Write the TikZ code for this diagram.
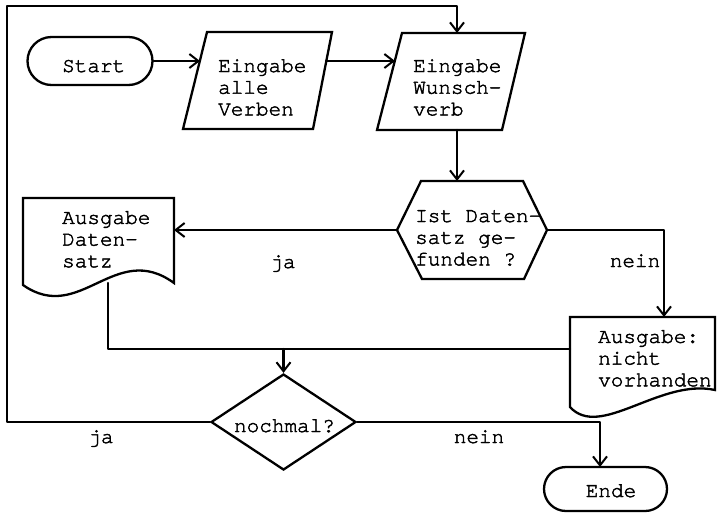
\documentclass[tikz,border=0pt]{standalone}
\usepackage{fontspec}
\setmonofont{TeX Gyre Cursor}[FakeBold=2]
\usetikzlibrary{arrows.meta,shapes.misc,shapes.geometric}

\begin{document}
\begin{tikzpicture}[x=1pt,y=-1pt,
  line/.style={line width=2.3pt, line join=round, line cap=round},
  conn/.style={line, -{Straight Barb[length=9pt,width=14pt,line width=2pt]}},
  shapeline/.style={line width=2.3pt, line join=miter},
  lbl/.style={font=\ttfamily\fontsize{21}{21.7}\selectfont, inner sep=0pt, align=left},
  term/.style={draw, shapeline, rounded rectangle, inner sep=0pt}]

\useasboundingbox (0,0) rectangle (719,512);
\fill[white] (0,0) rectangle (719,512);

% terminals
\node[term, minimum width=125pt, minimum height=48pt] (start) at (90,61) {};
\node[lbl, anchor=base west] (starttxt) at (62,72) {Start};
\node[term, minimum width=123pt, minimum height=44pt] (ende) at (605.5,489) {};
\node[lbl, anchor=base] (endetxt) at (611,497) {Ende};

% input: all verbs
\draw[shapeline] (207,32) -- (332,32) -- (313,129) -- (183,129) -- cycle;
\node[lbl, anchor=north west] (verben) at (218,59) {Eingabe\\alle\\Verben};
\coordinate (p1w) at (200,61);
\coordinate (p1e) at (326,61);

% input: wanted verb
\draw[shapeline] (402,33) -- (525,33) -- (502,130) -- (377,130) -- cycle;
\node[lbl, anchor=north west] (wunsch) at (413,59) {Eingabe\\Wunsch-\\verb};
\coordinate (p2w) at (395,61);
\coordinate (p2n) at (457,33);
\coordinate (p2s) at (457,130);

% decision: record found?
\draw[shapeline] (397,230) -- (421,181) -- (523,181) -- (547,230) -- (524,279) -- (422,279) -- cycle;
\node[lbl, anchor=north west] (frage) at (415,210) {Ist Daten-\\satz ge-\\funden ?};
\coordinate (hexn) at (457,181);
\coordinate (hexw) at (397,230);
\coordinate (hexe) at (547,230);

% output: record
\draw[shapeline] (23,198) -- (174,198) -- (174,283)
  .. controls (115,240) and (80,325) .. (23,285) -- cycle;
\node[lbl, anchor=north west] (datensatz) at (62,211) {Ausgabe\\Daten-\\satz};
\coordinate (doc1e) at (174,230);
\coordinate (doc1s) at (108,283);

% output: not found
\draw[shapeline] (570,317) -- (715,317) -- (715,390)
  .. controls (660,378) and (600,440) .. (570,407) -- cycle;
\node[lbl, anchor=north west] (nicht) at (598,330) {Ausgabe:\\nicht\\vorhanden};
\coordinate (doc2n) at (664,317);
\coordinate (doc2w) at (570,349);

% decision: again?
\node[diamond, draw, shapeline, minimum width=145pt, minimum height=96pt, inner sep=0pt, aspect=1.5] (nochmal) at (283.5,422) {};
\node[lbl, anchor=base] (nochmaltxt) at (284.5,432) {nochmal?};

% loop corners and junctions
\coordinate (loopbl) at (7,422);
\coordinate (looptl) at (7,6);
\coordinate (looptr) at (457,6);
\coordinate (merge) at (283.5,349);
\coordinate (endcorner) at (600,422);
\coordinate (endn) at (600,467);
\coordinate (neincorner) at (664,230);

% connectors
\draw[conn] (start.east) -- (p1w);
\draw[conn] (p1e) -- (p2w);
\draw[conn] (p2s) -- (hexn);
\draw[conn] (hexw) -- (doc1e);
\draw[conn] (hexe) -- (neincorner) -- (doc2n);
\draw[line] (doc1s) |- (doc2w);
\draw[conn] (merge) -- (nochmal.north);
\draw[conn] (nochmal.east) -- (endcorner) -- (endn);
\draw[conn] (nochmal.west) -- (loopbl) -- (looptl) -- (looptr) -- (p2n);

% branch labels
\node[lbl, anchor=base] (ja1) at (283,268) {ja};
\node[lbl, anchor=base] (nein1) at (635,267) {nein};
\node[lbl, anchor=base] (ja2) at (101,443) {ja};
\node[lbl, anchor=base] (nein2) at (479,443) {nein};
\end{tikzpicture}
\end{document}
